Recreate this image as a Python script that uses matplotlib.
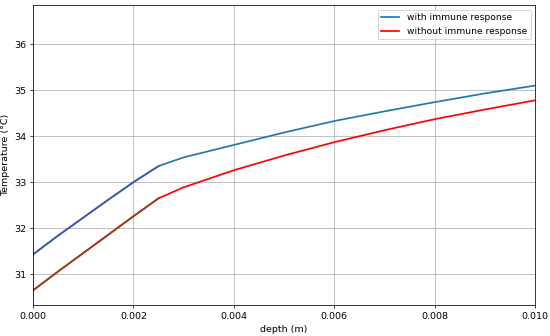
import matplotlib
matplotlib.use("Agg")
import matplotlib.pyplot as plt

depth = [0.0, 0.0005, 0.001, 0.0015, 0.002, 0.0025, 0.003, 0.004, 0.005, 0.006, 0.007, 0.008, 0.009, 0.010]
with_immune = [31.43, 31.84, 32.23, 32.62, 33.00, 33.35, 33.54, 33.81, 34.08, 34.33, 34.54, 34.74, 34.93, 35.10]
without_immune = [30.65, 31.06, 31.46, 31.86, 32.26, 32.65, 32.89, 33.26, 33.58, 33.87, 34.13, 34.37, 34.58, 34.78]
layer_end = 5  # index of depth 0.0025 (end of first layer)

fig = plt.figure(figsize=(8, 336/68.75), dpi=68.75)
ax = fig.add_axes([0.06, 0.092, 0.913, 0.893])

ax.plot(depth, with_immune, color="#1f77b4", lw=1.8, label="with immune response")
ax.plot(depth, without_immune, color="red", lw=1.8, label="without immune response")
ax.plot(depth[:layer_end + 1], with_immune[:layer_end + 1], color="#4658ad", lw=1.8)
ax.plot(depth[:layer_end + 1], without_immune[:layer_end + 1], color="#8b4520", lw=1.8)

ax.set_xlim(0, 0.010)
ax.set_ylim(30.33, 36.85)
ax.set_xlabel("depth (m)")
ax.set_ylabel("Temperature (°C)")
ax.grid(True)
ax.legend(loc="upper right", fontsize=9.5)

fig.savefig("out.png", dpi=68.75)
